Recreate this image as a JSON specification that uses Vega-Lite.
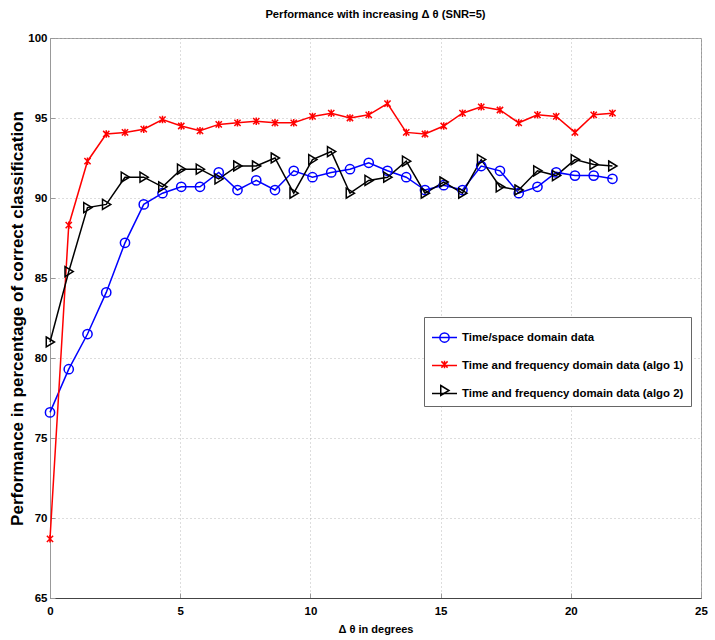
{
  "$schema": "https://vega.github.io/schema/vega-lite/v6.json",
  "width": 651,
  "height": 560,
  "autosize": {"type": "none"},
  "padding": {"left": 50, "top": 38, "right": 14, "bottom": 42},
  "background": "white",
  "title": {"text": "Performance with increasing Δ θ (SNR=5)", "font": "Liberation Sans", "fontSize": 11.2, "fontWeight": "bold", "color": "black", "offset": 12},
  "config": {
    "view": {"stroke": "#999", "strokeWidth": 1},
    "axis": {
      "labelFont": "Liberation Sans", "labelFontWeight": "bold", "labelFontSize": 11.5, "labelColor": "black",
      "titleFont": "Liberation Sans", "titleFontWeight": "bold", "titleColor": "black",
      "grid": true, "gridDash": [1, 3], "gridColor": "#bbb", "gridWidth": 1,
      "tickColor": "#999", "tickSize": -5
    }
  },
  "data": {"values": [
    {"x": 0, "v": 76.6, "s": "Time/space domain data"},
    {"x": 0.72, "v": 79.3, "s": "Time/space domain data"},
    {"x": 1.44, "v": 81.5, "s": "Time/space domain data"},
    {"x": 2.16, "v": 84.1, "s": "Time/space domain data"},
    {"x": 2.88, "v": 87.2, "s": "Time/space domain data"},
    {"x": 3.6, "v": 89.6, "s": "Time/space domain data"},
    {"x": 4.32, "v": 90.3, "s": "Time/space domain data"},
    {"x": 5.04, "v": 90.7, "s": "Time/space domain data"},
    {"x": 5.76, "v": 90.7, "s": "Time/space domain data"},
    {"x": 6.48, "v": 91.6, "s": "Time/space domain data"},
    {"x": 7.2, "v": 90.5, "s": "Time/space domain data"},
    {"x": 7.92, "v": 91.1, "s": "Time/space domain data"},
    {"x": 8.64, "v": 90.5, "s": "Time/space domain data"},
    {"x": 9.36, "v": 91.7, "s": "Time/space domain data"},
    {"x": 10.08, "v": 91.3, "s": "Time/space domain data"},
    {"x": 10.8, "v": 91.6, "s": "Time/space domain data"},
    {"x": 11.52, "v": 91.8, "s": "Time/space domain data"},
    {"x": 12.24, "v": 92.2, "s": "Time/space domain data"},
    {"x": 12.96, "v": 91.7, "s": "Time/space domain data"},
    {"x": 13.68, "v": 91.3, "s": "Time/space domain data"},
    {"x": 14.4, "v": 90.5, "s": "Time/space domain data"},
    {"x": 15.12, "v": 90.8, "s": "Time/space domain data"},
    {"x": 15.84, "v": 90.5, "s": "Time/space domain data"},
    {"x": 16.56, "v": 92.0, "s": "Time/space domain data"},
    {"x": 17.28, "v": 91.7, "s": "Time/space domain data"},
    {"x": 18.0, "v": 90.3, "s": "Time/space domain data"},
    {"x": 18.72, "v": 90.7, "s": "Time/space domain data"},
    {"x": 19.44, "v": 91.6, "s": "Time/space domain data"},
    {"x": 20.16, "v": 91.4, "s": "Time/space domain data"},
    {"x": 20.88, "v": 91.4, "s": "Time/space domain data"},
    {"x": 21.6, "v": 91.2, "s": "Time/space domain data"},
    {"x": 0, "v": 68.7, "s": "Time and frequency domain data (algo 1)"},
    {"x": 0.72, "v": 88.3, "s": "Time and frequency domain data (algo 1)"},
    {"x": 1.44, "v": 92.3, "s": "Time and frequency domain data (algo 1)"},
    {"x": 2.16, "v": 94.0, "s": "Time and frequency domain data (algo 1)"},
    {"x": 2.88, "v": 94.1, "s": "Time and frequency domain data (algo 1)"},
    {"x": 3.6, "v": 94.3, "s": "Time and frequency domain data (algo 1)"},
    {"x": 4.32, "v": 94.9, "s": "Time and frequency domain data (algo 1)"},
    {"x": 5.04, "v": 94.5, "s": "Time and frequency domain data (algo 1)"},
    {"x": 5.76, "v": 94.2, "s": "Time and frequency domain data (algo 1)"},
    {"x": 6.48, "v": 94.6, "s": "Time and frequency domain data (algo 1)"},
    {"x": 7.2, "v": 94.7, "s": "Time and frequency domain data (algo 1)"},
    {"x": 7.92, "v": 94.8, "s": "Time and frequency domain data (algo 1)"},
    {"x": 8.64, "v": 94.7, "s": "Time and frequency domain data (algo 1)"},
    {"x": 9.36, "v": 94.7, "s": "Time and frequency domain data (algo 1)"},
    {"x": 10.08, "v": 95.1, "s": "Time and frequency domain data (algo 1)"},
    {"x": 10.8, "v": 95.3, "s": "Time and frequency domain data (algo 1)"},
    {"x": 11.52, "v": 95.0, "s": "Time and frequency domain data (algo 1)"},
    {"x": 12.24, "v": 95.2, "s": "Time and frequency domain data (algo 1)"},
    {"x": 12.96, "v": 95.9, "s": "Time and frequency domain data (algo 1)"},
    {"x": 13.68, "v": 94.1, "s": "Time and frequency domain data (algo 1)"},
    {"x": 14.4, "v": 94.0, "s": "Time and frequency domain data (algo 1)"},
    {"x": 15.12, "v": 94.5, "s": "Time and frequency domain data (algo 1)"},
    {"x": 15.84, "v": 95.3, "s": "Time and frequency domain data (algo 1)"},
    {"x": 16.56, "v": 95.7, "s": "Time and frequency domain data (algo 1)"},
    {"x": 17.28, "v": 95.5, "s": "Time and frequency domain data (algo 1)"},
    {"x": 18.0, "v": 94.7, "s": "Time and frequency domain data (algo 1)"},
    {"x": 18.72, "v": 95.2, "s": "Time and frequency domain data (algo 1)"},
    {"x": 19.44, "v": 95.1, "s": "Time and frequency domain data (algo 1)"},
    {"x": 20.16, "v": 94.1, "s": "Time and frequency domain data (algo 1)"},
    {"x": 20.88, "v": 95.2, "s": "Time and frequency domain data (algo 1)"},
    {"x": 21.6, "v": 95.3, "s": "Time and frequency domain data (algo 1)"},
    {"x": 0, "v": 81.0, "s": "Time and frequency domain data (algo 2)"},
    {"x": 0.72, "v": 85.4, "s": "Time and frequency domain data (algo 2)"},
    {"x": 1.44, "v": 89.4, "s": "Time and frequency domain data (algo 2)"},
    {"x": 2.16, "v": 89.6, "s": "Time and frequency domain data (algo 2)"},
    {"x": 2.88, "v": 91.3, "s": "Time and frequency domain data (algo 2)"},
    {"x": 3.6, "v": 91.3, "s": "Time and frequency domain data (algo 2)"},
    {"x": 4.32, "v": 90.7, "s": "Time and frequency domain data (algo 2)"},
    {"x": 5.04, "v": 91.8, "s": "Time and frequency domain data (algo 2)"},
    {"x": 5.76, "v": 91.8, "s": "Time and frequency domain data (algo 2)"},
    {"x": 6.48, "v": 91.2, "s": "Time and frequency domain data (algo 2)"},
    {"x": 7.2, "v": 92.0, "s": "Time and frequency domain data (algo 2)"},
    {"x": 7.92, "v": 92.0, "s": "Time and frequency domain data (algo 2)"},
    {"x": 8.64, "v": 92.5, "s": "Time and frequency domain data (algo 2)"},
    {"x": 9.36, "v": 90.3, "s": "Time and frequency domain data (algo 2)"},
    {"x": 10.08, "v": 92.4, "s": "Time and frequency domain data (algo 2)"},
    {"x": 10.8, "v": 92.9, "s": "Time and frequency domain data (algo 2)"},
    {"x": 11.52, "v": 90.3, "s": "Time and frequency domain data (algo 2)"},
    {"x": 12.24, "v": 91.1, "s": "Time and frequency domain data (algo 2)"},
    {"x": 12.96, "v": 91.3, "s": "Time and frequency domain data (algo 2)"},
    {"x": 13.68, "v": 92.3, "s": "Time and frequency domain data (algo 2)"},
    {"x": 14.4, "v": 90.3, "s": "Time and frequency domain data (algo 2)"},
    {"x": 15.12, "v": 91.0, "s": "Time and frequency domain data (algo 2)"},
    {"x": 15.84, "v": 90.3, "s": "Time and frequency domain data (algo 2)"},
    {"x": 16.56, "v": 92.4, "s": "Time and frequency domain data (algo 2)"},
    {"x": 17.28, "v": 90.7, "s": "Time and frequency domain data (algo 2)"},
    {"x": 18.0, "v": 90.5, "s": "Time and frequency domain data (algo 2)"},
    {"x": 18.72, "v": 91.7, "s": "Time and frequency domain data (algo 2)"},
    {"x": 19.44, "v": 91.4, "s": "Time and frequency domain data (algo 2)"},
    {"x": 20.16, "v": 92.4, "s": "Time and frequency domain data (algo 2)"},
    {"x": 20.88, "v": 92.1, "s": "Time and frequency domain data (algo 2)"},
    {"x": 21.6, "v": 92.0, "s": "Time and frequency domain data (algo 2)"}
  ]},
  "encoding": {
    "x": {"field": "x", "type": "quantitative", "scale": {"domain": [0, 25], "nice": false, "zero": false},
      "axis": {"title": "Δ θ in degrees", "titleFontSize": 11, "titlePadding": 7, "values": [0, 5, 10, 15, 20, 25], "labelFlush": false, "labelPadding": 12, "domainColor": "#444"}},
    "y": {"field": "v", "type": "quantitative", "scale": {"domain": [65, 100], "nice": false, "zero": false},
      "axis": {"title": "Performance in percentage of correct classification", "titleFontSize": 17, "titlePadding": 1, "values": [65, 70, 75, 80, 85, 90, 95, 100], "labelPadding": 8, "domainColor": "#999"}}
  },
  "layer": [
    {
      "mark": {"type": "line", "strokeWidth": 1.5},
      "encoding": {
        "color": {"field": "s", "type": "nominal",
          "scale": {"domain": ["Time/space domain data", "Time and frequency domain data (algo 1)", "Time and frequency domain data (algo 2)"], "range": ["#0000ff", "#ff0000", "#000000"]},
          "legend": {"orient": "none", "legendX": 374, "legendY": 279, "title": null, "symbolType": "stroke", "symbolSize": 625, "symbolStrokeWidth": 1.5, "symbolFillColor": "transparent", "padding": 7, "rowPadding": 9, "labelOffset": 4, "labelLimit": 400, "strokeColor": "#666", "fillColor": "white", "labelFont": "Liberation Sans", "labelFontSize": 11.4, "labelFontWeight": "bold", "labelColor": "black", "zindex": 0}
        }
      }
    },
    {
      "mark": {"type": "point", "filled": false, "strokeWidth": 1.5, "size": 625, "opacity": 1},
      "encoding": {
        "stroke": {"field": "s", "type": "nominal",
          "scale": {"domain": ["Time/space domain data", "Time and frequency domain data (algo 1)", "Time and frequency domain data (algo 2)", "Time/space domain data"], "range": ["#0000ff", "#ff0000", "#000000", "#0000ff"]},
          "legend": {"orient": "none", "legendX": 374, "legendY": 279, "title": null, "symbolSize": 625, "symbolStrokeWidth": 1.5, "symbolFillColor": "transparent", "padding": 7, "rowPadding": 5, "labelOffset": 4, "labelLimit": 400, "labelFont": "Liberation Sans", "labelFontSize": 11.4, "labelFontWeight": "bold", "labelOpacity": 0, "zindex": 1}
        },
        "shape": {"field": "s", "type": "nominal",
          "scale": {"domain": ["Time/space domain data", "Time and frequency domain data (algo 1)", "Time and frequency domain data (algo 2)", "Time/space domain data"], "range": ["M0.37,0A0.37,0.37,0,1,1,-0.37,0A0.37,0.37,0,1,1,0.37,0Z", "M-0.25,-0.25L0.25,0.25M-0.25,0.25L0.25,-0.25M0,-0.3L0,0.3", "M-0.3,-0.4L0.36,0L-0.3,0.4Z", "M0.37,0A0.37,0.37,0,1,1,-0.37,0A0.37,0.37,0,1,1,0.37,0Z"]},
          "legend": {"orient": "none", "legendX": 374, "legendY": 279, "title": null, "symbolSize": 625, "symbolStrokeWidth": 1.5, "symbolFillColor": "transparent", "padding": 7, "rowPadding": 5, "labelOffset": 4, "labelLimit": 400, "labelFont": "Liberation Sans", "labelFontSize": 11.4, "labelFontWeight": "bold", "labelOpacity": 0, "zindex": 1}
        }
      }
    }
  ]
}
